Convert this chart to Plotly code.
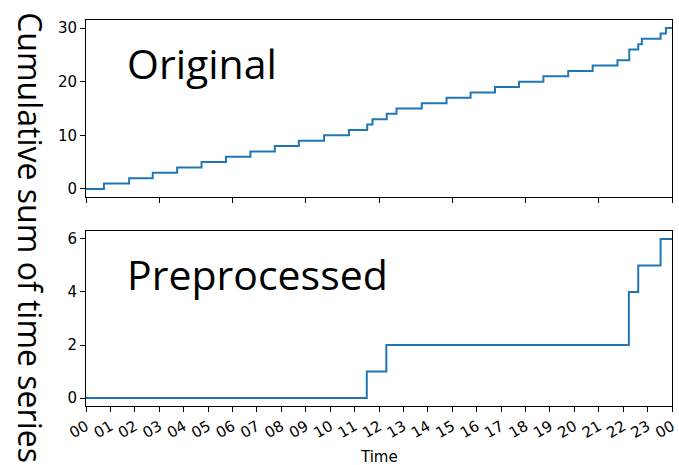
import plotly.graph_objects as go

# Data (event times and cumulative counts)
day = "2020-01-01"
next_day = "2020-01-02"
orig_times = ["00:00", "00:44", "01:46", "02:44", "03:44", "04:44", "05:44", "06:44",
              "07:44", "08:43", "09:45", "10:46", "11:31", "11:44", "12:19", "12:43",
              "13:45", "14:46", "15:45", "16:45", "17:44", "18:44", "19:45", "20:45",
              "21:46", "22:15", "22:37", "22:46", "23:32", "23:45"]
orig_values = [0, 1, 2, 3, 4, 5, 6, 7, 8, 9, 10, 11, 12, 13, 14, 15,
               16, 17, 18, 19, 20, 21, 22, 23, 24, 26, 27, 28, 29, 30]
prep_times = ["00:00", "11:30", "12:18", "22:14", "22:37", "23:32"]
prep_values = [0, 1, 2, 4, 5, 6]
hour_labels = ["%02d" % h for h in range(24)] + ["00"]

x_orig = [f"{day} {t}" for t in orig_times] + [f"{next_day} 00:00"]
y_orig = orig_values + [orig_values[-1]]
x_prep = [f"{day} {t}" for t in prep_times] + [f"{next_day} 00:00"]
y_prep = prep_values + [prep_values[-1]]

hour_ticks = [f"{day} {h:02d}:00" for h in range(24)] + [f"{next_day} 00:00"]

blue = "#1f77b4"
fig = go.Figure()
fig.add_trace(go.Scatter(x=x_orig, y=y_orig, mode="lines", line=dict(color=blue, width=2, shape="hv"),
                         xaxis="x", yaxis="y", showlegend=False, cliponaxis=False))
fig.add_trace(go.Scatter(x=x_prep, y=y_prep, mode="lines", line=dict(color=blue, width=2, shape="hv"),
                         xaxis="x2", yaxis="y2", showlegend=False, cliponaxis=False))

tickfont = dict(family="DejaVu Sans", size=15, color="black")
axis_common = dict(showgrid=False, zeroline=False, showline=True, linecolor="black", linewidth=1,
                   mirror=True, ticks="outside", ticklen=5, tickwidth=1, tickcolor="black",
                   tickfont=tickfont, automargin=False)
xrange = [f"{day} 00:00", f"{next_day} 00:00"]

fig.update_layout(
    width=679, height=465,
    margin=dict(l=86, r=7, t=20, b=59, autoexpand=False),
    plot_bgcolor="white", paper_bgcolor="white",
    xaxis=dict(**axis_common, domain=[0, 1], anchor="y", range=xrange,
               tickvals=hour_ticks[::3], showticklabels=False),
    yaxis=dict(**axis_common, domain=[0.5415, 1], anchor="x", range=[-1.5, 31.5],
               tickvals=[0, 10, 20, 30]),
    xaxis2=dict(**axis_common, domain=[0, 1], anchor="y2", range=xrange,
                tickvals=hour_ticks, ticktext=hour_labels, tickangle=-30),
    yaxis2=dict(**axis_common, domain=[0, 0.4534], anchor="x2", range=[-0.3, 6.3],
                tickvals=[0, 2, 4, 6]),
    annotations=[
        dict(text="Original", xref="x domain", yref="y domain", x=0.066, y=0.755,
             xanchor="left", yanchor="middle", showarrow=False,
             font=dict(family="Open Sans", size=41, color="black")),
        dict(text="Preprocessed", xref="x2 domain", yref="y2 domain", x=0.066, y=0.755,
             xanchor="left", yanchor="middle", showarrow=False,
             font=dict(family="Open Sans", size=41, color="black")),
        dict(text="Cumulative sum of time series", xref="paper", yref="paper",
             x=-0.095, y=0.4365, xanchor="center", yanchor="middle", textangle=90,
             showarrow=False, font=dict(family="Open Sans", size=32, color="black")),
        dict(text="Time", xref="paper", yref="paper", x=0.5, y=-0.132,
             xanchor="center", yanchor="middle", showarrow=False,
             font=dict(family="DejaVu Sans", size=15, color="black")),
    ],
)

fig.write_html("out.html", config={"displayModeBar": False},
               post_script="document.body.style.margin='0';")
